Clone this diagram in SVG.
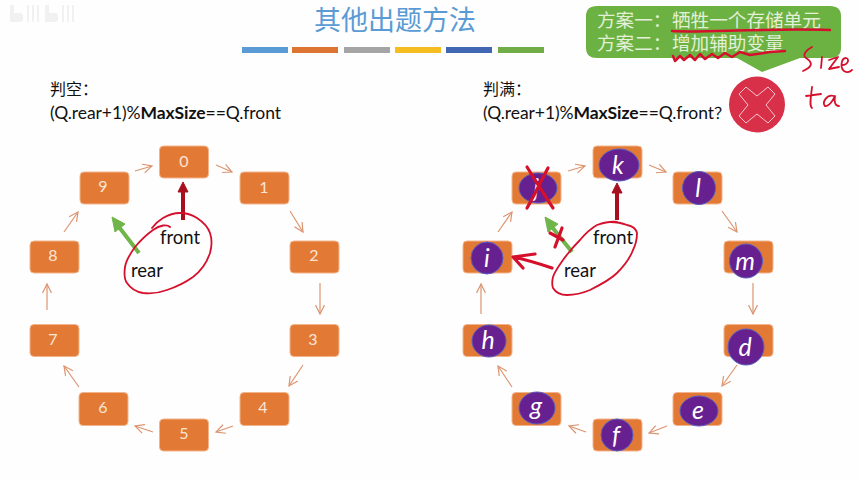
<svg xmlns="http://www.w3.org/2000/svg" width="859" height="479" viewBox="0 0 859 479">
<style>
text{font-family:"Lato","Open Sans",sans-serif}
.cjk{font-family:"Noto Sans CJK SC",sans-serif}
.box{fill:#e27a35;stroke:#f3b48c;stroke-width:1}
.num{fill:#fbe5d6;font-size:16px;text-anchor:middle}
.pur{fill:#662090;stroke:#5a5fc0;stroke-width:1}
.let{fill:#fff;font-size:25px;font-style:italic;text-anchor:middle}
.conn{fill:none;stroke:#dc9470;stroke-width:1.2;marker-end:url(#open)}
.ink{fill:none;stroke:#d5102c;stroke-width:1.8;stroke-linecap:round;stroke-linejoin:round}
.thick{stroke-width:3.2}
.lbl{fill:#111;font-size:18.5px}
.eq{fill:#111;font-size:17.5px}
.plan{fill:#e3efd6;font-size:18.6px;font-family:"Liberation Sans","Noto Sans CJK SC",sans-serif}
</style>
<defs>
<marker id="open" viewBox="0 0 12 12" refX="11" refY="6" markerWidth="12" markerHeight="12" markerUnits="userSpaceOnUse" orient="auto"><path d="M2 1.5L11 6L2 10.5" fill="none" stroke="#dc9470" stroke-width="1.2"/></marker>
</defs>
<rect width="859" height="479" fill="#fefefe"/>
<g id="watermark" fill="#f1f1f1">
<rect x="10" y="5" width="4" height="17"/><rect x="10" y="13" width="13" height="9" rx="3"/><rect x="27" y="5" width="2" height="17"/><rect x="32" y="5" width="2" height="17"/><rect x="37" y="5" width="2" height="17"/>
<rect x="45" y="5" width="4" height="17"/><rect x="45" y="13" width="13" height="9" rx="3"/><rect x="62" y="5" width="2" height="17"/><rect x="67" y="5" width="2" height="17"/><rect x="72" y="5" width="2" height="17"/>
</g>
<g id="title">
<text x="395" y="30" class="cjk" font-size="27" fill="#5b9bd5" text-anchor="middle">其他出题方法</text>
<rect x="242" y="47" width="46" height="6" fill="#5b9bd5"/>
<rect x="292" y="47" width="46" height="6" fill="#de7432"/>
<rect x="344" y="47" width="46" height="6" fill="#a5a5a5"/>
<rect x="395" y="47" width="46" height="6" fill="#f5bd1f"/>
<rect x="446" y="47" width="46" height="6" fill="#4267b2"/>
<rect x="498" y="47" width="46" height="6" fill="#70ad47"/>
</g>
<g id="left-caption">
<text x="50" y="95" class="cjk eq" style="font-size:16px">判空：</text>
<text x="50" y="119" class="eq" textLength="231">(Q.rear+1)%<tspan font-weight="700">MaxSize</tspan>==Q.front</text>
</g>
<g id="right-caption">
<text x="483" y="95" class="cjk eq" style="font-size:16px">判满：</text>
<text x="483" y="119" class="eq" textLength="231">(Q.rear+1)%<tspan font-weight="700">MaxSize</tspan>==Q.front</text>
<text x="714" y="119" class="cjk eq" style="font-size:16px">？</text>
</g>
<g id="connectors">
<path class="conn" d="M135 171L152 166"/><path class="conn" d="M216 165L232 172"/><path class="conn" d="M290 211L303 232"/><path class="conn" d="M320 283L320 314"/><path class="conn" d="M303 365L289 386"/><path class="conn" d="M233 426L216 432"/><path class="conn" d="M153 432L135 426"/><path class="conn" d="M79 387L64 366"/><path class="conn" d="M47 310L47 284"/><path class="conn" d="M64 232L78 212"/>
<path class="conn" d="M568 171L585 166"/><path class="conn" d="M649 165L666 172"/><path class="conn" d="M722 211L737 232"/><path class="conn" d="M753 283L753 314"/><path class="conn" d="M737 365L722 386"/><path class="conn" d="M667 426L649 433"/><path class="conn" d="M586 432L569 426"/><path class="conn" d="M512 387L498 366"/><path class="conn" d="M481 314L481 284"/><path class="conn" d="M498 232L512 212"/>
</g>
<g id="n0"><rect class="box" x="159.500" y="146" width="49" height="32" rx="4"/><text class="num" x="184" y="167">0</text></g>
<g id="n1"><rect class="box" x="240" y="172" width="49" height="32" rx="4"/><text class="num" x="264" y="193">1</text></g>
<g id="n2"><rect class="box" x="290" y="241" width="49" height="32" rx="4"/><text class="num" x="314" y="261">2</text></g>
<g id="n3"><rect class="box" x="290" y="324.500" width="49" height="32" rx="4"/><text class="num" x="313" y="345">3</text></g>
<g id="n4"><rect class="box" x="240" y="392.500" width="49" height="33" rx="4"/><text class="num" x="263" y="413">4</text></g>
<g id="n5"><rect class="box" x="159.500" y="419" width="49" height="32" rx="4"/><text class="num" x="184" y="439">5</text></g>
<g id="n6"><rect class="box" x="79" y="392.500" width="49" height="33" rx="4"/><text class="num" x="103" y="413">6</text></g>
<g id="n7"><rect class="box" x="30" y="324.500" width="49" height="32" rx="4"/><text class="num" x="53" y="345">7</text></g>
<g id="n8"><rect class="box" x="30" y="241" width="49" height="32" rx="4"/><text class="num" x="53" y="261">8</text></g>
<g id="n9"><rect class="box" x="80" y="172" width="49" height="32" rx="4"/><text class="num" x="103" y="192">9</text></g>
<g id="nk"><rect class="box" x="593" y="146" width="49" height="32" rx="4"/><ellipse class="pur" cx="619" cy="165" rx="20" ry="16"/><text class="let" x="618" y="174">k</text></g>
<g id="nl"><rect class="box" x="673" y="172" width="49" height="32" rx="4"/><ellipse class="pur" cx="699" cy="188" rx="16.500" ry="16.500"/><text class="let" x="698" y="197">l</text></g>
<g id="nm"><rect class="box" x="724" y="241" width="49" height="32" rx="4"/><ellipse class="pur" cx="746" cy="261" rx="16.500" ry="17"/><text class="let" x="745" y="270">m</text></g>
<g id="nd"><rect class="box" x="724" y="324.500" width="49" height="32" rx="4"/><ellipse class="pur" cx="746" cy="347" rx="18" ry="18"/><text class="let" x="745" y="356">d</text></g>
<g id="ne"><rect class="box" x="673" y="392.500" width="49" height="33" rx="4"/><ellipse class="pur" cx="699" cy="411" rx="19" ry="15"/><text class="let" x="698" y="419">e</text></g>
<g id="nf"><rect class="box" x="593" y="419" width="49" height="32" rx="4"/><ellipse class="pur" cx="617" cy="435" rx="16" ry="16"/><text class="let" x="616" y="444">f</text></g>
<g id="ng"><rect class="box" x="512" y="392.500" width="49" height="33" rx="4"/><ellipse class="pur" cx="537" cy="408" rx="18" ry="16"/><text class="let" x="536" y="415">g</text></g>
<g id="nh"><rect class="box" x="463" y="324.500" width="49" height="32" rx="4"/><ellipse class="pur" cx="489" cy="341" rx="17" ry="16"/><text class="let" x="488" y="349">h</text></g>
<g id="ni"><rect class="box" x="463" y="241" width="49" height="32" rx="4"/><ellipse class="pur" cx="487" cy="258" rx="16" ry="16"/><text class="let" x="487" y="267">i</text></g>
<g id="nj"><rect class="box" x="512" y="172" width="49" height="32" rx="4"/><ellipse class="pur" cx="538" cy="188" rx="19" ry="15"/><text class="let" x="536" y="197">j</text></g>
<g id="pointers-left">
<path d="M183 220V192" stroke="#a80f1e" stroke-width="4" fill="none"/><path d="M183 182L178 192H188Z" fill="#a80f1e" stroke="#a80f1e"/>
<path d="M139 253L119 227" stroke="#70b54a" stroke-width="4" fill="none"/><path d="M112 217L125 224L115 232Z" fill="#70b54a" stroke="#70b54a"/>
<text class="lbl" x="160" y="244">front</text><text class="lbl" x="131" y="277">rear</text>
</g>
<g id="pointers-right">
<path d="M617 220V193" stroke="#a80f1e" stroke-width="4" fill="none"/><path d="M617 183L612 193H622Z" fill="#a80f1e" stroke="#a80f1e"/>
<path d="M572 252L552 227" stroke="#70b54a" stroke-width="4" fill="none"/><path d="M545 217L558 224L548 232Z" fill="#70b54a" stroke="#70b54a"/>
<text class="lbl" x="593" y="244">front</text><text class="lbl" x="564" y="277">rear</text>
</g>
<g id="callout">
<path d="M597 6H830Q841 6 841 16V48Q841 58 830 58H800L762 72L737 58H597Q586 58 586 48V16Q586 6 597 6Z" fill="#6cb243"/>
<text class="plan" x="597" y="27">方案一：</text><text class="plan" x="672" y="27">牺牲一个存储单元</text>
<text class="plan" x="597" y="50">方案二：</text><text class="plan" x="672" y="50">增加辅助变量</text>
</g>
<g id="cross-badge">
<circle cx="757" cy="104.500" r="28" fill="#d9304a"/>
<path d="M746 87L757 96L768 87L775 94L766 105L775 116L768 123L757 114L746 123L739 116L748 105L739 94Z" fill="#d9304a" stroke="#f6c9d0" stroke-width="1" stroke-linejoin="round"/>
</g>
<g id="ink">
<path class="ink" d="M170 227C167 224 160 225 153 230C146 235 140 241 135 247C130 254 126 260 125 267C124 274 124 279 127 283C131 289 137 292 143 293C151 294 159 293 167 290C176 287 186 282 193 277C201 271 207 262 210 253C212 246 212 239 210 233C208 227 203 222 197 218C191 214 186 213 180 213C174 213 168 215 163 218C158 221 155 224 152 228"/>
<path class="ink" d="M617 222C610 221 603 223 597 225C590 229 585 234 580 240C574 246 568 253 563 260C559 266 555 271 553 277C552 281 552 285 553 288C556 293 561 295 567 295C575 295 583 293 590 290C600 285 610 280 617 273C624 266 630 258 633 250C636 244 637 238 637 233C636 229 632 226 627 225C622 223 616 222 610 222"/>
<path class="ink thick" d="M527 167C534 178 545 196 553 208M548 168C541 181 534 196 527 208"/>
<path class="ink thick" d="M513 257L535 254M513 257L523 268M513 257C528 260 540 264 552 268"/>
<path class="ink thick" d="M550 233L563 240M562 228L555 247"/>
<path class="ink" style="stroke-width:2.500" d="M672 31C700 33 760 28 830 30"/>
<path class="ink" style="stroke-width:2.500" d="M673 56L675 61L680 56L684 60L690 55L695 60L700 54L705 59L712 54L718 58L725 53L732 57L740 52L750 55L770 52L785 51"/>
<path class="ink" d="M812 47C806 50 802 55 806 58C812 62 814 66 803 71M822 57L821 68M829 60L838 57L829 69L839 67M842 65C848 65 850 59 846 58C841 58 840 68 844 71C847 73 850 72 852 70"/>
<path class="ink" d="M812 87C811 97 809 106 812 108M806 96L821 94M834 96C826 94 822 103 825 106C830 107 833 100 835 96C834 102 835 106 839 106"/>
</g>
</svg>
